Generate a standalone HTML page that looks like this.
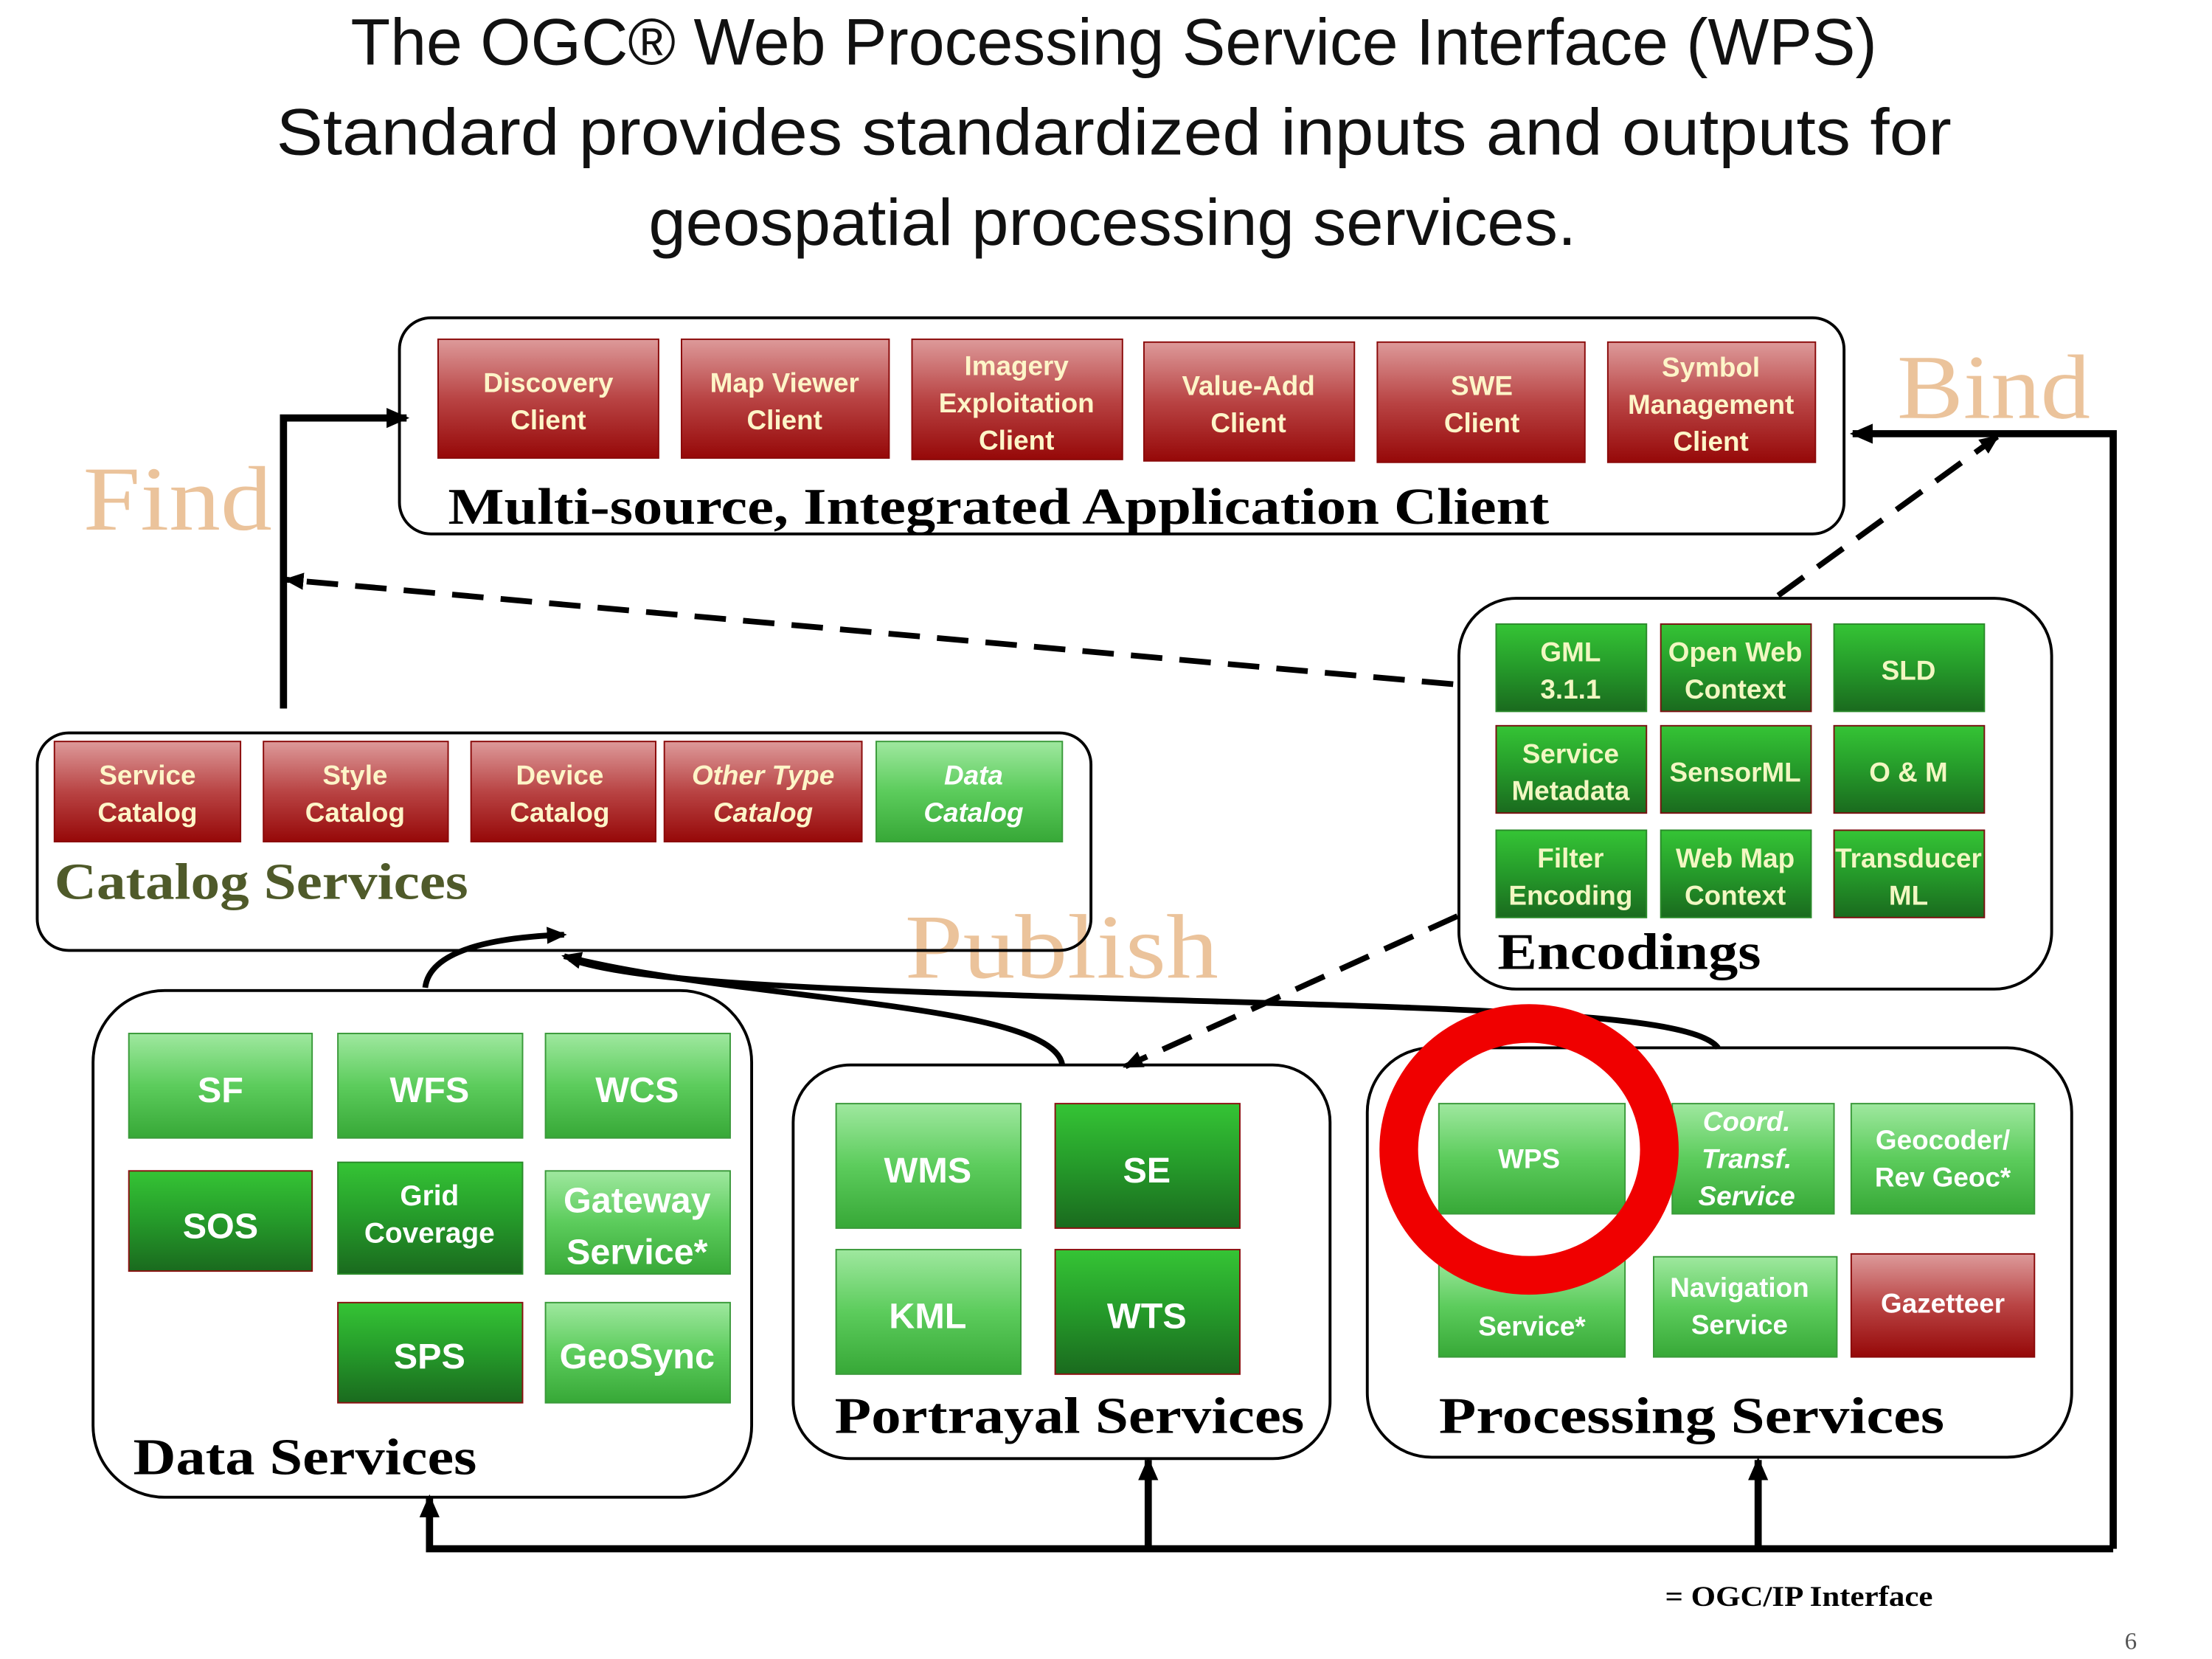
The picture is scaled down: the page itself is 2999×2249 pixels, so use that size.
<!DOCTYPE html>
<html><head><meta charset="utf-8"><style>
html,body{margin:0;padding:0;background:#fff;}
svg{display:block}
.t{font-family:"Liberation Sans",sans-serif;font-weight:bold;text-anchor:middle;}
.s{font-family:"Liberation Serif",serif;font-weight:bold;}
</style></head><body>
<svg width="2999" height="2249" viewBox="0 0 1545 1159" preserveAspectRatio="none" xmlns="http://www.w3.org/2000/svg">
<defs>
<linearGradient id="r" x1="0" y1="0" x2="0" y2="1"><stop offset="0" stop-color="#dd9a9a"/><stop offset="0.5" stop-color="#b94444"/><stop offset="1" stop-color="#960808"/></linearGradient>
<linearGradient id="g" x1="0" y1="0" x2="0" y2="1"><stop offset="0" stop-color="#9fe89f"/><stop offset="0.5" stop-color="#5ccc5c"/><stop offset="1" stop-color="#37a837"/></linearGradient>
<linearGradient id="d" x1="0" y1="0" x2="0" y2="1"><stop offset="0" stop-color="#35c435"/><stop offset="0.5" stop-color="#259a2a"/><stop offset="1" stop-color="#1a6a1e"/></linearGradient>
<marker id="a" markerWidth="16" markerHeight="16" refX="14" refY="8" orient="auto" markerUnits="userSpaceOnUse"><path d="M0,1 L16,8 L0,15 z" fill="#000"/></marker>
<marker id="a2" markerWidth="14" markerHeight="14" refX="12" refY="7" orient="auto" markerUnits="userSpaceOnUse"><path d="M0,1 L14,7 L0,13 z" fill="#000"/></marker>
</defs>

<!-- Title -->
<g font-family="Liberation Sans, sans-serif" font-size="46" fill="#111" lengthAdjust="spacingAndGlyphs">
<text x="245" y="45" textLength="1066" lengthAdjust="spacingAndGlyphs">The OGC® Web Processing Service Interface (WPS)</text>
<text x="193" y="108" textLength="1170" lengthAdjust="spacingAndGlyphs">Standard  provides standardized inputs and outputs for</text>
<text x="453" y="171" textLength="648" lengthAdjust="spacingAndGlyphs">geospatial processing services.</text>
</g>

<!-- Find / Bind / Publish -->
<g font-family="Liberation Serif, serif" fill="#ebc39b" font-size="64">
<text x="58" y="370" textLength="132" lengthAdjust="spacingAndGlyphs">Find</text>
<text x="1325" y="292" textLength="135" lengthAdjust="spacingAndGlyphs">Bind</text>
<text x="632" y="683" textLength="219" lengthAdjust="spacingAndGlyphs">Publish</text>
</g>

<!-- containers -->
<g fill="none" stroke="#000" stroke-width="2">
<rect x="279" y="222" width="1009" height="151" rx="22"/>
<rect x="26" y="512" width="736" height="152" rx="22"/>
<rect x="1019" y="418" width="414" height="273" rx="40"/>
<rect x="65" y="692" width="460" height="354" rx="50"/>
<rect x="554" y="744" width="375" height="275" rx="40"/>
<rect x="955" y="732" width="492" height="286" rx="45"/>
</g>

<!-- connectors -->
<g fill="none" stroke="#000" stroke-width="5">
<path d="M198,495 L198,292 L284,292" marker-end="url(#a)"/>
<path d="M1476,1082 L1476,303 L1294,303" marker-end="url(#a)"/>
<path d="M1476,1082 L300,1082 L300,1046" marker-end="url(#a)"/>
<path d="M802,1082 L802,1020" marker-end="url(#a)"/>
<path d="M1228,1082 L1228,1020" marker-end="url(#a)"/>
</g>
<g fill="none" stroke="#000" stroke-width="4" stroke-dasharray="22,12">
<path d="M1015,478 L200,405" marker-end="url(#a2)"/>
<path d="M1242,416 L1395,305" marker-end="url(#a2)"/>
<path d="M1018,640 L786,745" marker-end="url(#a2)"/>
</g>
<g fill="none" stroke="#000" stroke-width="4">
<path d="M297,690 C300,665 340,655 394,653" marker-end="url(#a2)"/>
<path d="M742,744 C735,700 520,700 394,668" marker-end="url(#a2)"/>
<path d="M1200,732 C1180,705 1000,705 700,695 C550,690 440,685 398,670"/>
</g>

<!-- Top clients -->
<g class="t" font-size="19" fill="#fdf5c8">
<rect x="306" y="237" width="154" height="83" fill="url(#r)" stroke="#8a0a0a"/>
<text x="383" y="274">Discovery</text><text x="383" y="300">Client</text>
<rect x="476" y="237" width="145" height="83" fill="url(#r)" stroke="#8a0a0a"/>
<text x="548" y="274">Map Viewer</text><text x="548" y="300">Client</text>
<rect x="637" y="237" width="147" height="84" fill="url(#r)" stroke="#8a0a0a"/>
<text x="710" y="262">Imagery</text><text x="710" y="288">Exploitation</text><text x="710" y="314">Client</text>
<rect x="799" y="239" width="147" height="83" fill="url(#r)" stroke="#8a0a0a"/>
<text x="872" y="276">Value-Add</text><text x="872" y="302">Client</text>
<rect x="962" y="239" width="145" height="84" fill="url(#r)" stroke="#8a0a0a"/>
<text x="1035" y="276">SWE</text><text x="1035" y="302">Client</text>
<rect x="1123" y="239" width="145" height="84" fill="url(#r)" stroke="#8a0a0a"/>
<text x="1195" y="263">Symbol</text><text x="1195" y="289">Management</text><text x="1195" y="315">Client</text>
</g>
<text class="s" x="313" y="366" font-size="36" fill="#000" textLength="769" lengthAdjust="spacingAndGlyphs">Multi-source, Integrated Application Client</text>

<!-- Catalog -->
<g class="t" font-size="19" fill="#fdf5c8">
<rect x="38" y="518" width="130" height="70" fill="url(#r)" stroke="#8a0a0a"/>
<text x="103" y="548">Service</text><text x="103" y="574">Catalog</text>
<rect x="184" y="518" width="129" height="70" fill="url(#r)" stroke="#8a0a0a"/>
<text x="248" y="548">Style</text><text x="248" y="574">Catalog</text>
<rect x="329" y="518" width="129" height="70" fill="url(#r)" stroke="#8a0a0a"/>
<text x="391" y="548">Device</text><text x="391" y="574">Catalog</text>
<rect x="464" y="518" width="138" height="70" fill="url(#r)" stroke="#8a0a0a"/>
<text x="533" y="548" font-style="italic">Other Type</text><text x="533" y="574" font-style="italic">Catalog</text>
<rect x="612" y="518" width="130" height="70" fill="url(#g)" stroke="#3a9a3a"/>
<text x="680" y="548" font-style="italic" fill="#fff">Data</text><text x="680" y="574" font-style="italic" fill="#fff">Catalog</text>
</g>
<text class="s" x="38" y="628" font-size="36" fill="#4f5a2a" textLength="289" lengthAdjust="spacingAndGlyphs">Catalog Services</text>

<!-- Encodings -->
<g class="t" font-size="19" fill="#f2f7c2">
<rect x="1045" y="436" width="105" height="61" fill="url(#d)" stroke="#2a8a2a"/>
<text x="1097" y="462">GML</text><text x="1097" y="488">3.1.1</text>
<rect x="1160" y="436" width="105" height="61" fill="url(#d)" stroke="#7a1010"/>
<text x="1212" y="462">Open Web</text><text x="1212" y="488">Context</text>
<rect x="1281" y="436" width="105" height="61" fill="url(#d)" stroke="#2a8a2a"/>
<text x="1333" y="475">SLD</text>
<rect x="1045" y="507" width="105" height="61" fill="url(#d)" stroke="#7a1010"/>
<text x="1097" y="533">Service</text><text x="1097" y="559">Metadata</text>
<rect x="1160" y="507" width="105" height="61" fill="url(#d)" stroke="#7a1010"/>
<text x="1212" y="546">SensorML</text>
<rect x="1281" y="507" width="105" height="61" fill="url(#d)" stroke="#7a1010"/>
<text x="1333" y="546">O &amp; M</text>
<rect x="1045" y="580" width="105" height="61" fill="url(#d)" stroke="#2a8a2a"/>
<text x="1097" y="606">Filter</text><text x="1097" y="632">Encoding</text>
<rect x="1160" y="580" width="105" height="61" fill="url(#d)" stroke="#2a8a2a"/>
<text x="1212" y="606">Web Map</text><text x="1212" y="632">Context</text>
<rect x="1281" y="580" width="105" height="61" fill="url(#d)" stroke="#7a1010"/>
<text x="1333" y="606">Transducer</text><text x="1333" y="632">ML</text>
</g>
<text class="s" x="1046" y="677" font-size="36" fill="#000" textLength="184" lengthAdjust="spacingAndGlyphs">Encodings</text>

<!-- Data Services -->
<g class="t" font-size="25" fill="#fff">
<rect x="90" y="722" width="128" height="73" fill="url(#g)" stroke="#3a9a3a"/>
<text x="154" y="770">SF</text>
<rect x="236" y="722" width="129" height="73" fill="url(#g)" stroke="#3a9a3a"/>
<text x="300" y="770">WFS</text>
<rect x="381" y="722" width="129" height="73" fill="url(#g)" stroke="#3a9a3a"/>
<text x="445" y="770">WCS</text>
<rect x="90" y="818" width="128" height="70" fill="url(#d)" stroke="#8a1010"/>
<text x="154" y="865">SOS</text>
<rect x="236" y="812" width="129" height="78" fill="url(#d)" stroke="#2a8a2a"/>
<text x="300" y="842" font-size="20">Grid</text><text x="300" y="868" font-size="20">Coverage</text>
<rect x="381" y="818" width="129" height="72" fill="url(#g)" stroke="#3a9a3a"/>
<text x="445" y="847">Gateway</text><text x="445" y="883">Service*</text>
<rect x="236" y="910" width="129" height="70" fill="url(#d)" stroke="#8a1010"/>
<text x="300" y="956">SPS</text>
<rect x="381" y="910" width="129" height="70" fill="url(#g)" stroke="#3a9a3a"/>
<text x="445" y="956">GeoSync</text>
</g>
<text class="s" x="93" y="1030" font-size="36" fill="#000" textLength="240" lengthAdjust="spacingAndGlyphs">Data Services</text>

<!-- Portrayal -->
<g class="t" font-size="25" fill="#fff">
<rect x="584" y="771" width="129" height="87" fill="url(#g)" stroke="#3a9a3a"/>
<text x="648" y="826">WMS</text>
<rect x="737" y="771" width="129" height="87" fill="url(#d)" stroke="#8a1010"/>
<text x="801" y="826">SE</text>
<rect x="584" y="873" width="129" height="87" fill="url(#g)" stroke="#3a9a3a"/>
<text x="648" y="928">KML</text>
<rect x="737" y="873" width="129" height="87" fill="url(#d)" stroke="#8a1010"/>
<text x="801" y="928">WTS</text>
</g>
<text class="s" x="583" y="1001" font-size="36" fill="#000" textLength="328" lengthAdjust="spacingAndGlyphs">Portrayal Services</text>

<!-- Processing -->
<g class="t" font-size="19" fill="#fff">
<rect x="1005" y="771" width="130" height="77" fill="url(#g)" stroke="#3a9a3a"/>
<text x="1068" y="816">WPS</text>
<rect x="1168" y="771" width="113" height="77" fill="url(#g)" stroke="#3a9a3a"/>
<text x="1220" y="790" font-style="italic">Coord.</text><text x="1220" y="816" font-style="italic">Transf.</text><text x="1220" y="842" font-style="italic">Service</text>
<rect x="1293" y="771" width="128" height="77" fill="url(#g)" stroke="#3a9a3a"/>
<text x="1357" y="803">Geocoder/</text><text x="1357" y="829">Rev Geoc*</text>
<rect x="1005" y="878" width="130" height="70" fill="url(#g)" stroke="#3a9a3a"/>
<text x="1070" y="933">Service*</text>
<rect x="1155" y="878" width="128" height="70" fill="url(#g)" stroke="#3a9a3a"/>
<text x="1215" y="906">Navigation</text><text x="1215" y="932">Service</text>
<rect x="1293" y="876" width="128" height="72" fill="url(#r)" stroke="#8a0a0a"/>
<text x="1357" y="917">Gazetteer</text>
</g>
<ellipse cx="1068" cy="803" rx="91" ry="88" fill="none" stroke="#f00000" stroke-width="27"/>
<text class="s" x="1005" y="1001" font-size="36" fill="#000" textLength="353" lengthAdjust="spacingAndGlyphs">Processing Services</text>

<text class="s" x="1163" y="1122" font-size="20" fill="#000" textLength="187" lengthAdjust="spacingAndGlyphs">= OGC/IP Interface</text>
<text x="1484" y="1152" font-family="Liberation Serif, serif" font-size="17" fill="#555">6</text>
</svg>
</body></html>
